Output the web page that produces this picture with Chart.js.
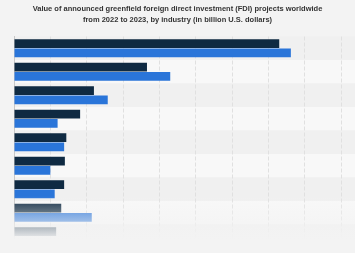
<!DOCTYPE html>
<html><head><meta charset="utf-8">
<script src="https://cdn.jsdelivr.net/npm/chart.js@4"></script>
<style>html,body{margin:0;padding:0;background:#f3f3f3;}#wrap{width:355px;height:253px;}</style>
</head><body><div id="wrap"><canvas id="c" width="355" height="253"></canvas></div>
<script>
const categories = ["Energy and gas supply","Electronics and electrical equipment","Information and communication","Semiconductors","Chemicals","Automotive","Metals","Transportation and storage","Other"];
const values2022 = [365, 183, 110, 91, 72, 70, 69, 65, 58];
const values2023 = [381, 215, 129, 60, 69, 50, 56, 107, null];
const titleLines = ["Value of announced greenfield foreign direct investment (FDI) projects worldwide","from 2022 to 2023, by industry (in billion U.S. dollars)"];

const bg = {
  id:'bg',
  beforeDraw(chart){
    const {ctx, chartArea, scales} = chart;
    ctx.save();
    ctx.fillStyle='#f3f3f3'; ctx.fillRect(0,0,chart.width,chart.height);
    const y = scales.y;
    const h = y.getPixelForValue(1)-y.getPixelForValue(0);
    categories.forEach((c,i)=>{
      const center = y.getPixelForValue(i);
      ctx.fillStyle = i%2===0 ? '#f0f0f0' : '#f8f8f8';
      ctx.fillRect(chartArea.left, center-h/2, chart.width-chartArea.left, h);
    });
    ctx.restore();
  }
};
const fade = {
  id:'fade',
  afterDatasetsDraw(chart){
    const {ctx} = chart;
    ctx.save();
    const g = ctx.createLinearGradient(0,196,0,240);
    g.addColorStop(0,'rgba(243,243,243,0)');
    g.addColorStop(0.55,'rgba(243,243,243,0.55)');
    g.addColorStop(1,'rgba(243,243,243,1)');
    ctx.fillStyle = g;
    ctx.fillRect(0,196,chart.width,44);
    ctx.fillStyle = '#f3f3f3';
    ctx.fillRect(0,240,chart.width,chart.height-240);
    ctx.restore();
  }
};

new Chart(document.getElementById('c'), {
  type:'bar',
  data:{
    labels:categories,
    datasets:[
      {label:'2022', data:values2022, backgroundColor:'#0f2a42', categoryPercentage:0.78, barPercentage:0.94},
      {label:'2023', data:values2023, backgroundColor:'#2a75d9', categoryPercentage:0.78, barPercentage:0.94}
    ]
  },
  options:{
    indexAxis:'y',
    responsive:false,
    animation:false,
    layout:{padding:{left:14,right:14,top:0,bottom:5}},
    plugins:{
      legend:{display:false},
      tooltip:{enabled:false},
      title:{display:true, text:titleLines, color:'#333333', font:{family:'Liberation Sans', size:7.5, weight:'bold', lineHeight:1.5}, padding:{top:3,bottom:11}}
    },
    scales:{
      x:{min:0,max:450,ticks:{display:false,stepSize:50,padding:0},
        grid:{color:'#e0e0e0', lineWidth:1, drawTicks:false},
        border:{display:false, dash:[4,2]},
        afterFit(a){a.height=0;}},
      y:{ticks:{display:false,padding:0}, grid:{display:false}, border:{display:true,color:'#c8c8c8'},
        afterFit(a){a.width=0;}}
    }
  },
  plugins:[bg,fade]
});
</script></body></html>
